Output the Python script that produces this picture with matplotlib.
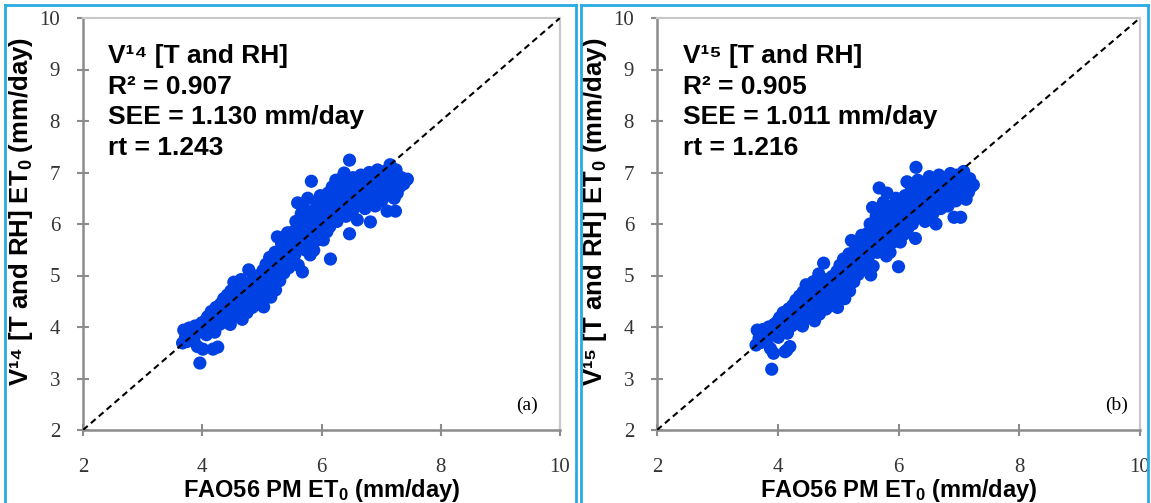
import matplotlib

matplotlib.use("Agg")
import matplotlib.pyplot as plt  # noqa: E402
from matplotlib.lines import Line2D  # noqa: E402

plt.rcParams["font.family"] = ["Liberation Sans", "DejaVu Sans"]
plt.rcParams["mathtext.fontset"] = "custom"
plt.rcParams["mathtext.rm"] = "Liberation Sans:bold"
plt.rcParams["mathtext.it"] = "Liberation Sans:bold"
plt.rcParams["mathtext.bf"] = "Liberation Sans:bold"

BLUE = "#0041E3"
FRAME = "#29ABE2"
GREY = "#8C8C8C"

# panel (a): FAO56 PM ET0 vs V14 [T and RH] ET0 (mm/day)
fao_a = [3.67, 3.69, 3.72, 3.75, 3.78, 3.80, 3.83, 3.86, 3.88, 3.90, 3.92, 3.96, 3.97, 3.99, 4.01,
         4.03, 4.05, 4.07, 4.09, 4.11, 4.13, 4.15, 4.18, 4.19, 4.21, 4.23, 4.26, 4.27, 4.29, 4.31,
         4.33, 4.35, 4.36, 4.38, 4.40, 4.42, 4.43, 4.45, 4.47, 4.48, 4.50, 4.52, 4.53, 4.55, 4.57,
         4.58, 4.60, 4.62, 4.64, 4.65, 4.67, 4.69, 4.70, 4.72, 4.74, 4.75, 4.77, 4.78, 4.80, 4.82,
         4.84, 4.86, 4.88, 4.90, 4.92, 4.94, 4.96, 4.98,
         5.00, 5.02, 5.03, 5.05, 5.07, 5.08, 5.10, 5.12, 5.13, 5.15, 5.17, 5.18, 5.20, 5.22, 5.23,
         5.25, 5.26, 5.28, 5.30, 5.32, 5.33, 5.35, 5.37, 5.38, 5.40, 5.42, 5.43, 5.45, 5.47, 5.48, 5.50,
         5.52, 5.53, 5.55, 5.57, 5.58, 5.60, 5.61, 5.63, 5.65, 5.66, 5.68, 5.69, 5.71, 5.72, 5.74,
         5.75, 5.77, 5.78, 5.80, 5.81, 5.83, 5.84, 5.86, 5.87, 5.89, 5.90, 5.92, 5.93, 5.95, 5.96,
         5.98, 6.00, 6.01, 6.03, 6.04, 6.06, 6.08, 6.09, 6.11, 6.12, 6.14, 6.15, 6.17, 6.18, 6.20,
         6.21, 6.23, 6.24, 6.26, 6.27, 6.29, 6.30, 6.32, 6.33, 6.35, 6.36, 6.38, 6.39, 6.41, 6.42,
         6.44, 6.45, 6.47, 6.47, 6.49, 6.50, 6.52, 6.53, 6.55, 6.57, 6.58, 6.60, 6.61, 6.63, 6.65,
         6.66, 6.68, 6.70, 6.71, 6.73, 6.75, 6.76, 6.78, 6.80, 6.82, 6.83, 6.85, 6.87, 6.88, 6.90,
         6.92, 6.94, 6.95, 6.97, 6.99,
         7.01, 7.02, 7.04, 7.06, 7.08, 7.10, 7.11, 7.13, 7.15, 7.16, 7.18, 7.20, 7.22, 7.24, 7.25,
         7.27, 7.29, 7.31, 7.34, 7.38, 7.44]
v14 = [3.69, 3.94, 3.80, 3.72, 3.98, 3.85, 3.90, 3.75, 4.02, 3.88, 3.62, 3.30, 3.95, 4.08, 3.57,
       3.92, 4.12, 3.85, 4.20, 3.98, 4.05, 4.30, 3.57, 4.15, 3.90, 4.38, 3.61, 4.22, 4.05, 4.45,
       4.18, 4.30, 4.55, 4.10, 4.40, 4.62, 4.25, 4.48, 4.05, 4.70, 4.35, 4.58, 4.87, 4.20, 4.45,
       4.75, 4.30, 4.62, 4.50, 4.92, 4.15, 4.70, 4.40, 4.58, 4.85, 4.28, 4.65, 5.11, 4.50, 4.75,
       4.38, 4.95, 4.60, 4.82, 4.45, 5.00, 4.70, 4.55,
       4.88, 5.10, 4.39, 4.75, 5.22, 4.95, 4.60, 5.05, 5.35, 4.58, 4.85, 5.18, 5.00, 5.45, 4.72,
       5.28, 5.75, 5.10, 4.90, 5.40, 5.62, 5.20, 5.05, 5.50, 5.32, 5.70, 5.83, 5.15, 5.45, 5.60, 5.25,
       5.55, 5.85, 5.40, 6.05, 5.70, 6.41, 5.20, 5.90, 5.60, 6.20, 5.07, 5.78, 6.30, 5.50, 6.00,
       5.85, 6.50, 5.65, 6.15, 5.40, 6.83, 5.95, 6.25, 5.49, 6.05, 5.80, 6.40, 6.33, 5.70, 6.10,
       6.55, 5.90, 6.20, 5.69, 6.45, 6.00, 6.30, 5.85, 6.60, 6.15, 5.95, 5.32, 6.40, 6.72, 6.10,
       6.55, 6.30, 6.85, 6.05, 6.60, 6.40, 6.75, 6.20, 6.50, 6.90, 6.35, 6.99, 6.65, 6.15, 6.45,
       6.80, 6.30, 7.24, 5.81, 6.55, 6.70, 6.25, 6.90, 6.45, 6.60, 6.35, 6.08, 6.80, 6.50, 6.65,
       6.95, 6.40, 6.75, 6.55, 6.30, 6.85, 6.60, 6.45, 7.00, 6.04, 6.70, 6.50, 6.85, 6.62, 6.35,
       6.78, 7.05, 6.55, 6.90, 6.68,
       6.45, 6.85, 6.70, 7.02, 6.55, 6.25, 6.80, 6.95, 7.15, 6.65, 6.88, 6.75, 6.50, 6.25, 7.05,
       6.60, 6.85, 6.72, 6.90, 6.78, 6.87]

# panel (b): FAO56 PM ET0 vs V15 [T and RH] ET0 (mm/day)
fao_b = [3.64, 3.66, 3.69, 3.72, 3.75, 3.77, 3.80, 3.82, 3.85, 3.87, 3.88, 3.90, 3.92, 3.94, 3.93,
         3.97, 3.99, 4.01, 4.03, 4.05, 4.07, 4.09, 4.12, 4.13, 4.15, 4.16, 4.18, 4.20, 4.21, 4.23, 4.25,
         4.27, 4.29, 4.30, 4.32, 4.34, 4.36, 4.37, 4.39, 4.41, 4.42, 4.44, 4.46, 4.47, 4.49, 4.51,
         4.52, 4.54, 4.56, 4.58, 4.59, 4.61, 4.63, 4.64, 4.66, 4.68, 4.69, 4.71, 4.73, 4.74, 4.76,
         4.78, 4.80, 4.82, 4.84, 4.86, 4.88, 4.90, 4.92, 4.94,
         4.96, 4.98, 4.99, 5.01, 5.03, 5.04, 5.06, 5.08, 5.09, 5.11, 5.13, 5.14, 5.16, 5.18, 5.19,
         5.21, 5.22, 5.24, 5.26, 5.28, 5.29, 5.31, 5.33, 5.34, 5.36, 5.38, 5.39, 5.41, 5.43, 5.44,
         5.46, 5.48, 5.49, 5.51, 5.53, 5.54, 5.55, 5.57, 5.58, 5.60, 5.62, 5.63, 5.65, 5.66, 5.68,
         5.69, 5.71, 5.72, 5.74, 5.75, 5.77, 5.78, 5.80, 5.81, 5.83, 5.84, 5.86, 5.87, 5.89, 5.90,
         5.92, 5.93, 5.95, 5.96, 5.98, 6.00, 6.01, 6.03, 6.04, 6.06, 6.08, 6.09,
         6.11, 6.12, 6.14, 6.15, 6.17, 6.18, 6.20, 6.21, 6.23, 6.24, 6.26, 6.28, 6.29, 6.30, 6.32,
         6.33, 6.35, 6.36, 6.38, 6.39, 6.41, 6.43, 6.44, 6.46, 6.47, 6.49, 6.51, 6.52, 6.54, 6.55,
         6.57, 6.59, 6.60, 6.62, 6.64, 6.65, 6.67, 6.69, 6.70, 6.72, 6.74, 6.75, 6.77, 6.79, 6.80,
         6.82, 6.84, 6.86, 6.88,
         6.90, 6.92, 6.93, 6.95, 6.97, 6.99, 7.01, 7.03, 7.04, 7.06, 7.08, 7.10, 7.12, 7.14, 7.16,
         7.18, 7.20, 7.24]
v15 = [3.65, 3.94, 3.78, 3.70, 3.95, 3.82, 3.88, 3.72, 4.00, 3.85, 3.58, 3.18, 3.92, 4.05, 3.49,
       3.88, 4.10, 3.80, 4.18, 3.95, 4.02, 4.28, 3.52, 4.12, 3.55, 3.88, 4.35, 3.62, 4.20, 4.02, 4.42,
       4.15, 4.28, 4.52, 4.08, 4.38, 4.60, 4.22, 4.45, 4.02, 4.68, 4.32, 4.55, 4.82, 4.18, 4.42,
       4.72, 4.28, 4.60, 4.48, 4.88, 4.12, 4.66, 4.38, 4.55, 5.03, 4.25, 4.62, 4.80, 4.48, 5.24,
       4.72, 4.35, 4.92, 4.58, 4.78, 4.42, 4.98, 4.66, 4.52,
       4.85, 5.08, 4.38, 4.72, 5.20, 4.92, 4.58, 5.02, 5.32, 4.55, 4.82, 5.15, 4.98, 5.42, 4.70,
       5.25, 5.68, 5.08, 4.88, 5.38, 5.58, 5.18, 5.02, 5.48, 5.30, 5.65, 5.78, 5.12, 5.42, 5.58,
       5.22, 5.52, 5.82, 5.38, 6.00, 5.01, 5.68, 6.32, 5.18, 5.86, 5.58, 6.15, 5.45, 5.75, 6.70,
       6.25, 5.48, 5.95, 5.82, 6.42, 5.62, 6.10, 5.38, 6.60, 5.90, 6.22, 5.45, 6.00, 5.78, 6.35,
       6.28, 5.66, 6.05, 6.50, 5.86, 5.17, 6.15, 5.65, 6.40, 5.96, 6.25, 5.80,
       6.55, 6.10, 6.82, 5.90, 6.35, 6.50, 6.18, 6.72, 6.00, 6.45, 6.30, 5.72, 7.10, 6.62, 6.85,
       6.22, 6.48, 6.70, 6.12, 6.58, 6.35, 6.80, 6.05, 6.50, 6.65, 6.28, 6.92, 6.40, 6.72, 6.55,
       6.20, 6.85, 6.62, 6.00, 6.75, 6.45, 6.95, 6.58, 6.30, 6.80, 6.52, 6.68, 6.42, 6.90, 6.60,
       6.35, 6.78, 6.98, 6.55,
       6.72, 6.13, 6.85, 6.45, 6.95, 6.62, 6.78, 6.13, 6.90, 6.55, 7.02, 6.70, 6.48, 6.82, 6.62,
       6.88, 6.72, 6.76]

panels = [
    (fao_a, v14, "¹⁴", "0.907", "1.130", "1.243", "(a)"),
    (fao_b, v15, "¹⁵", "0.905", "1.011", "1.216", "(b)"),
]

W, H = 1151, 503
fig = plt.figure(figsize=(W / 100, H / 100), dpi=100)

# axes boxes in pixels: left, right
boxes = [(83, 560), (657, 1140)]
top_px, bot_px = 18, 430

for (x, y, ver, r2, see, rt, tag), (l, r) in zip(panels, boxes):
    ax = fig.add_axes([l / W, 1 - bot_px / H, (r - l) / W, (bot_px - top_px) / H])
    ax.scatter(x, y, s=90, color=BLUE, edgecolors="none", zorder=2)
    ax.plot([2, 10], [2, 10], color="black", lw=1.5, ls=(0, (3, 2)), zorder=3)
    ax.set_xlim(2, 10)
    ax.set_ylim(2, 10)
    ax.set_xticks([2, 4, 6, 8, 10])
    ax.set_yticks(range(2, 11))
    ax.tick_params(direction="inout", length=9, width=1.5, color=GREY, pad=12,
                   labelsize=15, labelcolor="#333333")
    ax.tick_params(axis="x", pad=16)
    for lab in ax.get_xticklabels() + ax.get_yticklabels():
        lab.set_fontfamily("Liberation Serif")
    for side in ("left", "bottom"):
        ax.spines[side].set_color(GREY)
        ax.spines[side].set_linewidth(1.8)
    for side in ("top", "right"):
        ax.spines[side].set_color("#C8C8C8")
        ax.spines[side].set_linewidth(1.5)

    ax.set_xlabel("FAO56 PM ET$_0$ (mm/day)", fontsize=17, fontweight="bold")
    ax.set_ylabel("V" + ver + " [T and RH] ET$_0$ (mm/day)", fontsize=18.5, fontweight="bold")
    ax.xaxis.set_label_coords(0.5, -0.115)
    ax.yaxis.set_label_coords(-0.1, 0.53)

    lines = ["V" + ver + " [T and RH]", "R² = " + r2,
             "SEE = " + see + " mm/day", "rt = " + rt]
    for i, t in enumerate(lines):
        ax.text(0.053, 0.891 - i * 0.0745, t, transform=ax.transAxes, fontsize=19,
                fontweight="bold", va="baseline", ha="left")
    ax.text(0.93 if tag == "(a)" else 0.952, 0.06, tag, transform=ax.transAxes,
            fontsize=14, family="Liberation Serif", ha="center", va="center")

# light blue frames around each panel
for fl, fr in [(5, 576), (581, 1148)]:
    for xs, ys in [([fl, fl], [H + 5, 5]), ([fl, fr], [5, 5]), ([fr, fr], [5, H + 5])]:
        fig.add_artist(Line2D([v / W for v in xs], [1 - v / H for v in ys],
                              transform=fig.transFigure, color=FRAME, lw=2))

fig.savefig("out.png", dpi=100)
